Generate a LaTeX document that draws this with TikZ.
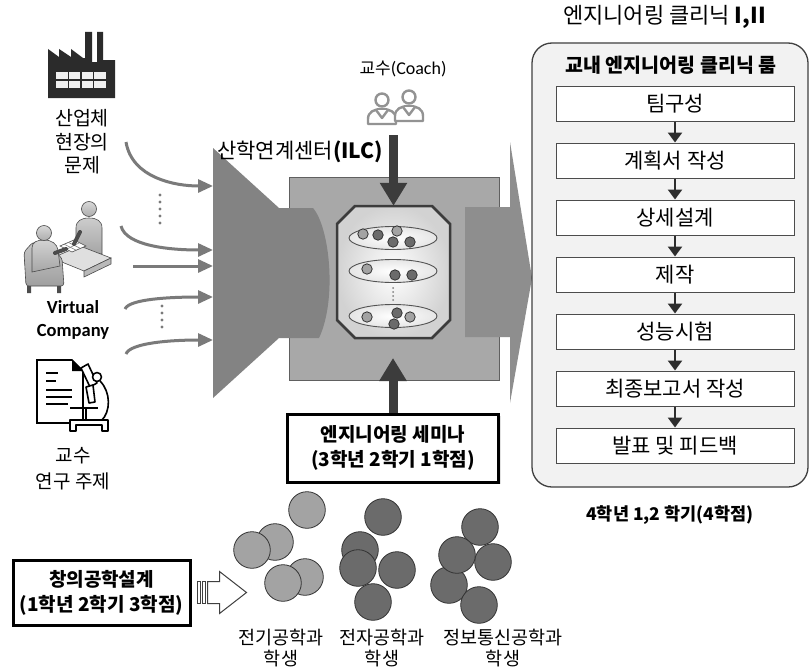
\documentclass[tikz,border=0pt]{standalone}
\usepackage{fontspec}
\setmainfont{Noto Sans CJK KR}
\newfontfamily\latin{Carlito}
\usetikzlibrary{arrows.meta,shapes.geometric,shadows,calc}

\definecolor{funnelgray}{HTML}{838383}
\definecolor{boxgray}{HTML}{A8A8A8}
\definecolor{arrowgray}{HTML}{8E8E8E}
\definecolor{linegray}{HTML}{7A7A7A}
\definecolor{darkline}{HTML}{3C3C3C}
\definecolor{panelfill}{HTML}{F2F2F2}
\definecolor{lightball}{HTML}{A3A3A3}
\definecolor{darkball}{HTML}{6B6B6B}
\definecolor{factory}{HTML}{2B2B2B}

\tikzset{feed/.style={line width=3pt,draw=linegray,-{Triangle[length=15pt,width=13pt]}},
         dots/.style={line width=3.2pt,draw=linegray,line cap=round,dash pattern=on 0pt off 7pt},
         heavy/.style={line width=9pt,draw=darkline,-{Triangle[length=23pt,width=26pt]}},
         stepbox/.style={draw=gray!60!black,line width=1pt,fill=white,minimum width=238pt,minimum height=35pt,inner sep=0pt,font=\fontsize{21}{24}\selectfont},
         flow/.style={line width=2.8pt,draw=gray!35!black,-{Triangle[length=10pt,width=14pt]}},
         thickbox/.style={draw=black,line width=3pt,fill=white,align=center,inner sep=0pt,font=\bfseries\fontsize{19}{25}\selectfont,drop shadow={shadow xshift=2pt,shadow yshift=-2pt,fill=gray!45}},
         ball/.style={draw=black!80,line width=0.8pt},
         personline/.style={draw=gray!85,line width=2.4pt,fill=white,line join=round},
         mic/.style={line width=1.6pt,fill=white,line join=round},
         label/.style={align=center,inner sep=0pt,font=\fontsize{19.5}{23.5}\selectfont},
         pics/member/.style={code={
           \draw[personline] (-14,17) -- (-14,12) .. controls (-14,5) and (-8,2) .. (0,2) .. controls (8,2) and (14,5) .. (14,12) -- (14,17) -- cycle;
           \draw[personline] (-6,3) -- (0,11) -- (6,3);
           \draw[personline] (0,-7) circle (6.5);}}}

\begin{document}
\begin{tikzpicture}[x=1pt,y=-1pt]
  \useasboundingbox[fill=white] (0,0) rectangle (810,669);

  % factory
  \fill[factory] (48,98) -- (48,49) -- (59,57) -- (59,49) -- (71,57) -- (71,49) -- (83,58) -- (85,58) -- (85,32) -- (92,32)
     -- (92,62) -- (97,62) -- (97,32) -- (103,32) -- (103,60) -- (115,60) -- (115,98) -- cycle;
  \fill[gray!12] (56,72) rectangle (106,88);
  \foreach \wx in {68.5,81,93.5} \draw[factory,line width=1.5pt] (\wx,72) -- (\wx,88);
  \draw[factory,line width=1.5pt] (56,80) -- (106,80);
  \node[label] (industry) at (82,142) {산업체\\현장의\\문제};

  % virtual company
  \begin{scope}[line width=0.6pt,draw=gray!60!black]
    \draw[top color=gray!40,bottom color=gray!70] (76,252) -- (76,228) .. controls (76,221) and (81,218) .. (89,218) .. controls (97,218) and (102,221) .. (102,228) -- (102,254) -- cycle;
    \draw[top color=gray!30,bottom color=gray!65] (89,209) circle (7.5);
    \draw[fill=gray!25] (52,258) -- (80,246) -- (111,258) -- (84,271) -- cycle;
    \draw[fill=gray!55] (84,271) -- (111,258) -- (111,264) -- (84,277) -- cycle;
    \draw[fill=white] (60,246) -- (74,240) -- (86,246) -- (72,252) -- cycle;
    \foreach \t in {0.3,0.6} \draw[gray] ($(60,246)!\t!(74,240)$) -- ($(72,252)!\t!(86,246)$);
    \draw[gray] (67,249) -- (79,243);
    \draw[top color=gray!45,bottom color=gray!75,rounded corners=3pt] (24,252) -- (33,242) -- (48,246) -- (62,258) -- (64,286) -- (26,286) -- cycle;
    \fill[gray!60!black] (27,286) rectangle (31,293) (57,286) rectangle (61,293);
    \draw[top color=gray!35,bottom color=gray!70] (32,272) -- (32,248) .. controls (32,242) and (37,240) .. (44,240) .. controls (52,240) and (57,244) .. (58,250) -- (60,266) -- cycle;
    \draw[top color=gray!30,bottom color=gray!65] (44,233) circle (7.5);
    \draw[gray!60!black,line width=4pt,line cap=round] (55,253) -- (66,249);
    \draw[gray!60!black,line width=4pt,line cap=round] (80,232) -- (74,244);
  \end{scope}
  \node[label,font=\latin\bfseries\fontsize{18.5}{23}\selectfont] (company) at (73,319.5) {Virtual\\Company};

  % professor's research
  \draw[line width=1.6pt,fill=white] (37,360) -- (72,360) -- (83,371) -- (83,423) -- (37,423) -- cycle;
  \fill (72,360) -- (83,371) -- (72,371) -- cycle;
  \foreach \ly/\lx in {373/58,381/56,390/72,397/72,404/68} \draw[line width=1.3pt] (46,\ly) -- (\lx,\ly);
  \draw[mic] (81,368) -- (88,364) -- (97,383) -- (90,387) -- cycle;
  \draw[mic] (86,387) -- (93,385) -- (95,402) -- (89,403) -- cycle;
  \draw[mic] (97,377) circle (4.5);
  \draw[line width=1.6pt] (100,381) .. controls (111,392) and (111,412) .. (101,421);
  \draw[line width=1.6pt] (70,408) -- (98,408);
  \draw[line width=1.6pt] (86,408) -- (86,420);
  \draw[mic] (70,420) -- (108,420) -- (108,431) -- (102,431) -- (102,425) -- (76,425) -- (76,431) -- (70,431) -- cycle;
  \node[label,font=\fontsize{19}{26}\selectfont] (research) at (73,469) {교수\\연구 주제};

  % inputs into the funnel
  \foreach \n/\y in {1/186,2/250,3/266,4/297,5/340} \coordinate (in\n) at (213,\y);
  \draw[feed] (126,142) .. controls (132,178) and (175,186) .. (in1);
  \draw[feed] (121,226) .. controls (126,246) and (170,250) .. (in2);
  \draw[feed] (133,266) -- (in3);
  \draw[feed] (125,309) .. controls (129,299) and (170,297) .. (in4);
  \draw[feed] (126,354) .. controls (130,343) and (170,340) .. (in5);
  \draw[dots] (160,195) -- (160,224);
  \draw[dots] (162,306) -- (162,333);

  % center: box, funnel, outlet
  \node (ilc) [fill=boxgray,draw=gray!75!black,line width=1pt,minimum width=210pt,minimum height=203pt,inner sep=0pt] at (394,278.5) {};
  \fill[funnelgray] (213,148) -- (279,208) -- (313,208) .. controls (330,228) and (337,300) .. (319,338) -- (279,338) -- (213,398) -- cycle;
  \fill[arrowgray] (465,207) -- (510,207) -- (510,142) -- (532,278) -- (510,403) -- (510,337) -- (465,337) -- cycle;
  \node[label,anchor=west,font=\fontsize{21}{24}\selectfont] (ilclabel) at (217,152) {산학연계센터\textbf{(ILC)}};

  % team room
  \draw[line width=2.5pt,draw=darkline,inner color=white,outer color=gray!35] (337,224) -- (355,206) -- (432,206) -- (450,224) -- (450,320) -- (432,338) -- (355,338) -- (337,320) -- cycle;
  \node (octa) [minimum width=113pt,minimum height=132pt,inner sep=0pt] at (393.5,272) {};
  \foreach \n/\y in {1/238,2/271,3/316}
    \node[ellipse,draw=gray!65!black,line width=0.9pt,inner color=white,outer color=gray!20,minimum width=88pt,minimum height=23pt] (team\n) at (393,\y) {};
  \draw[dots,line width=2pt,dash pattern=on 0pt off 4pt,draw=gray] (393,288) -- (393,300);
  \foreach \bx/\by/\bc in {363/234/lightball,378/235/darkball,397/231/lightball,393/242/darkball,410/242/darkball,
                           367/269/lightball,395/275/darkball,412/275/darkball,
                           367/317/lightball,410/317/lightball,397/313/darkball,394/324/darkball}
    \draw[ball,fill=\bc] (\bx,\by) circle (5.2);

  % coach
  \pic at (382,107) {member};
  \pic at (409,104) {member};
  \node[label,font=\fontsize{17}{20}\selectfont] (coachlabel) at (403,69) {교수{\latin\fontsize{18}{20}\selectfont(Coach)}};
  \coordinate (coach) at (393.5,135);
  \draw[heavy] (coach) -- (octa.north);

  % seminar
  \node[thickbox,minimum width=211pt,minimum height=68pt] (seminar) at (393,448) {엔지니어링 세미나\\(3학년 2학기 1학점)};
  \coordinate (semtip) at (393,358);
  \draw[heavy] (seminar.north) -- (semtip);

  % engineering clinic
  \node[anchor=west,inner sep=0pt,font=\fontsize{22}{24}\selectfont] (clinictitle) at (563,17) {엔지니어링 클리닉 \textbf{I,II}};
  \node (clinic) [draw=gray!50!black,line width=1.3pt,fill=panelfill,rounded corners=20pt,minimum width=276pt,minimum height=444pt] at (670,265) {};
  \node[font=\bfseries\fontsize{19.5}{22}\selectfont] (room) at (671,65) {교내 엔지니어링 클리닉 룸};
  \foreach \txt [count=\i] in {팀구성,계획서 작성,상세설계,제작,성능시험,최종보고서 작성,발표 및 피드백}
    \node[stepbox] (s\i) at (675,{46.5+57*\i}) {\txt};
  \foreach \a/\b in {1/2,2/3,3/4,4/5,5/6,6/7} \draw[flow] (s\a.south) -- (s\b.north);
  \node[font=\bfseries\fontsize{17.5}{20}\selectfont] (credit) at (670,515) {4학년 1,2 학기(4학점)};

  % first year design course
  \node[thickbox,minimum width=177pt,minimum height=65pt] (design) at (101.5,592.5) {창의공학설계\\(1학년 2학기 3학점)};
  \begin{scope}[shift={(design.east)},draw=gray!50!black,line width=1pt]
    \draw (6,-11) rectangle (9,11);
    \draw (11,-11) rectangle (14,11);
    \draw (16,-11) -- (28,-11) -- (28,-21) -- (55,0) -- (28,21) -- (28,11) -- (16,11) -- cycle;
  \end{scope}

  % students
  \foreach \bx/\by in {307/510,275/542,252/550,305/577,283/583}
    \draw[ball,fill=lightball] (\bx,\by) circle (18.3);
  \foreach \bx/\by in {383/517,360/550,397/570,358/568,373/602}
    \draw[ball,fill=darkball] (\bx,\by) circle (18.3);
  \foreach \bx/\by in {480/527,493/562,449/585,457/555,479/605}
    \draw[ball,fill=darkball] (\bx,\by) circle (18.3);
  \node[label,font=\fontsize{18.5}{21}\selectfont] (eelabel) at (281,648) {전기공학과\\학생};
  \node[label,font=\fontsize{18.5}{21}\selectfont] (eclabel) at (382,648) {전자공학과\\학생};
  \node[label,font=\fontsize{18.5}{21}\selectfont] (iclabel) at (503,648) {정보통신공학과\\학생};
\end{tikzpicture}
\end{document}
